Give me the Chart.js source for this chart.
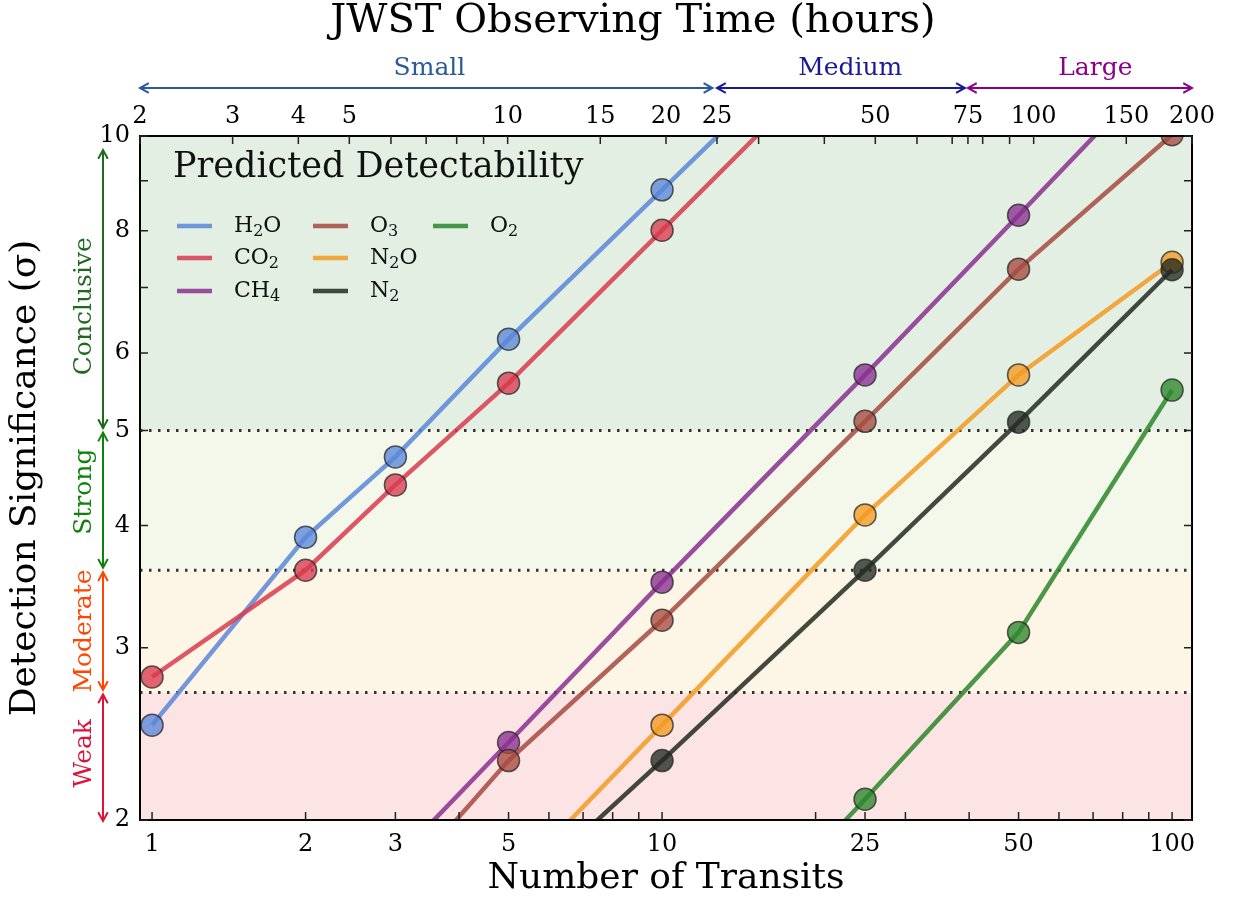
<!DOCTYPE html>
<html>
<head>
<meta charset="utf-8">
<script src="https://cdn.jsdelivr.net/npm/chart.js@4.4.1/dist/chart.umd.min.js"></script>
<style>
  html, body { margin: 0; padding: 0; background: #fff; }
</style>
</head>
<body>
<canvas id="chart" width="1234" height="900"></canvas>
<script>
// number of transits and detection significance (sigma) of each gas
const transits = [1, 2, 3, 5, 10, 25, 50, 100];
const h2o = [2.50, 3.89, 4.70, 6.20, 8.81, 14.0, null, null];
const co2 = [2.80, 3.60, 4.40, 5.59, 8.01, 12.9, null, null];
const ch4 = [null, null, 1.82, 2.40, 3.50, 5.70, 8.30, 12.1];
const o3 = [null, null, 1.70, 2.30, 3.20, 5.11, 7.31, 10.03];
const n2o = [null, null, null, 1.72, 2.50, 4.10, 5.70, 7.43];
const n2 = [null, null, null, 1.65, 2.30, 3.60, 5.10, 7.30];
const o2 = [null, null, null, null, 1.26, 2.10, 3.11, 5.50];

const gasNames = ["H2O", "CO2", "CH4", "O3", "N2O", "N2", "O2"];
const gasColors = ["#5a86d8", "#d93a4e", "#88308f", "#a64a40", "#f39a20", "#222a22", "#2b862b"];

// axis ticks
const bottomTicks = [1, 2, 3, 4, 5, 6, 7, 8, 9, 10, 20, 25, 30, 40, 50, 60, 70, 80, 90, 100];
const bottomLabels = [1, 2, 3, 5, 10, 25, 50, 100];
const topTicks = [2, 3, 4, 5, 6, 7, 8, 9, 10, 15, 20, 25, 30, 40, 50, 60, 70, 75, 80, 90, 100, 150, 200];
const topLabels = [2, 3, 4, 5, 10, 15, 20, 25, 50, 75, 100, 150, 200];
const yTicks = [2, 3, 4, 5, 6, 7, 8, 9, 10];
const yLabels = [2, 3, 4, 5, 6, 8, 10];

// detectability bands
const bandEdges = [2, 2.7, 3.6, 5, 10];
const bandNames = ["Weak", "Moderate", "Strong", "Conclusive"];
const bandColors = ["#fde4e4", "#fdf5e5", "#f3f8ea", "#e3efe2"];
const bandTextColors = ["#dc143c", "#ff4500", "#108010", "#1e6a1e"];
const bandLabelAt = [2.34, 3.12, 4.33, 6.7];

// JWST program sizes (hours)
const sizeNames = ["Small", "Medium", "Large"];
const sizeRanges = [[2, 24.5], [25, 74], [75, 200]];
const sizeLabelAt = [7.1, 44.8, 131];
const sizeColors = ["#2a5a9a", "#1a1a96", "#8b008b"];

const FONT = "'DejaVu Serif', serif";
Chart.defaults.font.family = FONT;
Chart.defaults.color = "#000";

function rgba(hex, a) {
  const n = parseInt(hex.slice(1), 16);
  return `rgba(${n >> 16}, ${(n >> 8) & 255}, ${n & 255}, ${a})`;
}

function arrow(ctx, x1, y1, x2, y2, color) {
  const ang = Math.atan2(y2 - y1, x2 - x1), h = 10, w = 0.5;
  ctx.save();
  ctx.strokeStyle = color;
  ctx.lineWidth = 2;
  ctx.beginPath(); ctx.moveTo(x1, y1); ctx.lineTo(x2, y2); ctx.stroke();
  [[x1, y1, ang + Math.PI], [x2, y2, ang]].forEach(([x, y, a]) => {
    ctx.beginPath();
    ctx.moveTo(x - h * Math.cos(a - w), y - h * Math.sin(a - w));
    ctx.lineTo(x, y);
    ctx.lineTo(x - h * Math.cos(a + w), y - h * Math.sin(a + w));
    ctx.stroke();
  });
  ctx.restore();
}

// chemical formula with subscript digits
function formula(ctx, str, x, y) {
  let cx = x;
  for (const ch of str) {
    const sub = /[0-9]/.test(ch);
    ctx.font = (sub ? 16 : 22) + "px " + FONT;
    ctx.fillText(ch, cx, sub ? y + 6 : y);
    cx += ctx.measureText(ch).width;
  }
}

const decor = {
  id: "decor",
  beforeDatasetsDraw(chart) {
    const { ctx, chartArea: a, scales: { y } } = chart;
    ctx.save();
    bandColors.forEach((c, i) => {
      const top = y.getPixelForValue(bandEdges[i + 1]);
      const bot = y.getPixelForValue(bandEdges[i]);
      ctx.fillStyle = c;
      ctx.fillRect(a.left, top, a.right - a.left, bot - top);
    });
    ctx.strokeStyle = "#333";
    ctx.lineWidth = 3;
    ctx.setLineDash([2.5, 6.5]);
    bandEdges.slice(1, -1).forEach(v => {
      const py = y.getPixelForValue(v);
      ctx.beginPath(); ctx.moveTo(a.left, py); ctx.lineTo(a.right, py); ctx.stroke();
    });
    ctx.restore();
  },
  afterDraw(chart) {
    const { ctx, chartArea: a, scales: { x, x2, y } } = chart;
    ctx.save();

    // frame and inward ticks
    ctx.strokeStyle = "#000";
    ctx.lineWidth = 2;
    ctx.strokeRect(a.left, a.top, a.right - a.left, a.bottom - a.top);
    ctx.strokeStyle = "#222";
    ctx.lineWidth = 1.5;
    ctx.beginPath();
    x.ticks.forEach(t => { const p = x.getPixelForValue(t.value); ctx.moveTo(p, a.bottom); ctx.lineTo(p, a.bottom - 8); });
    x2.ticks.forEach(t => { const p = x2.getPixelForValue(t.value); ctx.moveTo(p, a.top); ctx.lineTo(p, a.top + 8); });
    y.ticks.forEach(t => {
      const p = y.getPixelForValue(t.value);
      ctx.moveTo(a.left, p); ctx.lineTo(a.left + 8, p);
      ctx.moveTo(a.right, p); ctx.lineTo(a.right - 8, p);
    });
    ctx.stroke();

    // top axis title
    ctx.fillStyle = "#000";
    ctx.textBaseline = "middle";
    ctx.textAlign = "center";
    ctx.font = "40px " + FONT;
    ctx.fillText("JWST Observing Time (hours)", 633, 22);

    // legend
    ctx.fillStyle = "#111";
    ctx.textAlign = "left";
    ctx.font = "35px " + FONT;
    ctx.fillText("Predicted Detectability", 173, 168);
    const cols = [177, 313, 433];
    const rows = [226, 258, 291];
    gasNames.forEach((g, i) => {
      const cx = cols[Math.floor(i / 3)], cy = rows[i % 3];
      ctx.strokeStyle = rgba(gasColors[i], 0.85);
      ctx.lineWidth = 4.5;
      ctx.beginPath(); ctx.moveTo(cx, cy); ctx.lineTo(cx + 35, cy); ctx.stroke();
      ctx.fillStyle = "#111";
      formula(ctx, g, cx + 57, cy);
    });

    // detectability labels on the left
    bandNames.forEach((name, i) => {
      const top = y.getPixelForValue(bandEdges[i + 1]) + (i === 3 ? 14 : 2);
      const bot = y.getPixelForValue(bandEdges[i]) - (i === 0 ? -1 : 2.5);
      arrow(ctx, 103, top, 103, bot, bandTextColors[i]);
      ctx.save();
      ctx.translate(84, y.getPixelForValue(bandLabelAt[i]));
      ctx.rotate(-Math.PI / 2);
      ctx.font = "25px " + FONT;
      ctx.textAlign = "center";
      ctx.fillStyle = bandTextColors[i];
      ctx.fillText(name, 0, 0);
      ctx.restore();
    });

    // JWST program sizes on top
    sizeNames.forEach((name, i) => {
      const x1 = x2.getPixelForValue(sizeRanges[i][0]);
      const x3 = x2.getPixelForValue(sizeRanges[i][1]);
      arrow(ctx, x1, 88, x3, 88, sizeColors[i]);
      ctx.font = "25px " + FONT;
      ctx.textAlign = "center";
      ctx.fillStyle = sizeColors[i];
      ctx.fillText(name, x2.getPixelForValue(sizeLabelAt[i]), 68);
    });
    ctx.restore();
  }
};

const series = [h2o, co2, ch4, o3, n2o, n2, o2];

new Chart(document.getElementById("chart"), {
  type: "line",
  data: {
    datasets: series.map((vals, i) => ({
      label: gasNames[i],
      data: transits.map((t, j) => ({ x: t, y: vals[j] })),
      borderColor: rgba(gasColors[i], 0.85),
      backgroundColor: rgba(gasColors[i], 0.8),
      pointBackgroundColor: rgba(gasColors[i], 0.78),
      pointBorderColor: "rgba(40, 40, 40, 0.75)",
      pointBorderWidth: 1.5,
      pointRadius: 11,
      borderWidth: 4.5,
      tension: 0,
      order: -i
    }))
  },
  options: {
    responsive: false,
    animation: false,
    layout: { padding: { left: 0, right: 42, top: 0, bottom: 0 } },
    plugins: { legend: { display: false }, tooltip: { enabled: false } },
    scales: {
      x: {
        type: "logarithmic",
        position: "bottom",
        min: 0.947,
        max: 109.4,
        grid: { display: false, drawTicks: false },
        border: { display: false },
        afterBuildTicks: s => { s.ticks = bottomTicks.map(v => ({ value: v })); },
        afterFit: s => { s.height = 80; },
        ticks: {
          autoSkip: false, maxRotation: 0, padding: 10, font: { size: 24 },
          callback: v => bottomLabels.includes(v) ? String(v) : ""
        },
        title: { display: true, text: "Number of Transits", font: { size: 36 }, padding: 0 }
      },
      x2: {
        type: "logarithmic",
        position: "top",
        min: 2,
        max: 200,
        grid: { display: false, drawTicks: false },
        border: { display: false },
        afterBuildTicks: s => { s.ticks = topTicks.map(v => ({ value: v })); },
        afterFit: s => { s.height = 136; },
        ticks: {
          autoSkip: false, maxRotation: 0, padding: 5, font: { size: 24 },
          callback: v => topLabels.includes(v) ? String(v) : ""
        }
      },
      y: {
        type: "logarithmic",
        min: 2,
        max: 10,
        grid: { display: false, drawTicks: false },
        border: { display: false },
        afterBuildTicks: s => { s.ticks = yTicks.map(v => ({ value: v })); },
        afterFit: s => { s.width = 140; },
        ticks: {
          autoSkip: false, padding: 10, font: { size: 24 },
          callback: v => yLabels.includes(v) ? String(v) : ""
        },
        title: { display: true, text: "Detection Significance (σ)", font: { size: 36 }, padding: { top: 4, bottom: 0 } }
      }
    }
  },
  plugins: [decor]
});
</script>
</body>
</html>
